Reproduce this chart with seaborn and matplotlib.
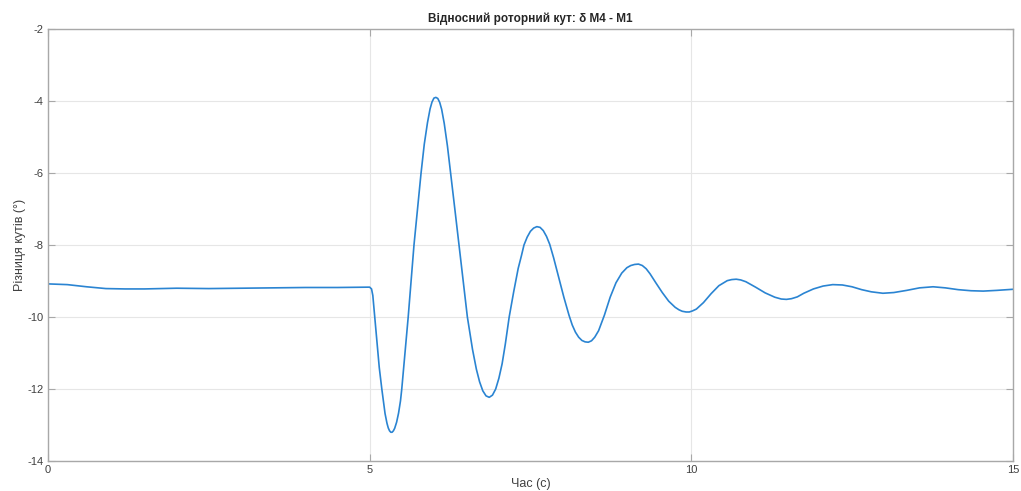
import numpy as np
import pandas as pd
import seaborn as sns
import matplotlib.pyplot as plt

sns.set_theme(style="whitegrid")
plt.rcParams['font.family'] = ['Liberation Sans', 'DejaVu Sans']

# значення
time_s = [
    0.0, 0.3, 0.6, 0.9, 1.2, 1.5, 2.0, 2.5, 3.0, 3.5, 4.0, 4.5, 4.9,
    5.00, 5.03, 5.05, 5.08, 5.11, 5.15, 5.19, 5.24, 5.27, 5.29, 5.31, 5.33,
    5.35, 5.37, 5.39, 5.42, 5.45, 5.48, 5.50, 5.55, 5.60, 5.645, 5.69, 5.745,
    5.80, 5.85, 5.90, 5.94, 5.97, 6.00, 6.03, 6.06, 6.09, 6.12, 6.16, 6.21,
    6.26, 6.325, 6.39, 6.455, 6.52, 6.60, 6.66, 6.71, 6.76, 6.81, 6.86, 6.91,
    6.96, 7.01, 7.06, 7.11, 7.17, 7.24, 7.31, 7.36, 7.40, 7.45, 7.50, 7.55,
    7.60, 7.65, 7.70, 7.75, 7.80, 7.86, 7.94, 8.02, 8.10, 8.15, 8.20, 8.25,
    8.30, 8.35, 8.40, 8.45, 8.50, 8.56, 8.65, 8.74, 8.83, 8.92, 9.00, 9.06,
    9.12, 9.18, 9.24, 9.30, 9.36, 9.45, 9.55, 9.65, 9.75, 9.81, 9.86, 9.92,
    9.97, 10.02, 10.08, 10.19, 10.31, 10.43, 10.56, 10.63, 10.70, 10.77,
    10.85, 11.00, 11.15, 11.30, 11.40, 11.48, 11.56, 11.65, 11.75, 11.90,
    12.05, 12.20, 12.35, 12.50, 12.65, 12.80, 12.98, 13.15, 13.35, 13.55,
    13.76, 13.95, 14.15, 14.35, 14.54, 14.75, 15.0,
]
delta_deg = [
    -9.08, -9.10, -9.16, -9.21, -9.22, -9.22, -9.20, -9.21, -9.20, -9.19, -9.18, -9.18, -9.17,
    -9.17, -9.22, -9.40, -10.0, -10.6, -11.4, -12.0, -12.68, -12.95, -13.08, -13.16, -13.20,
    -13.20, -13.16, -13.09, -12.92, -12.67, -12.33, -12.0, -11.0, -10.0, -9.0, -8.0, -7.0,
    -6.0, -5.2, -4.6, -4.22, -4.03, -3.92, -3.90, -3.93, -4.04, -4.23, -4.62, -5.25,
    -6.0, -7.0, -8.0, -9.0, -10.0, -10.9, -11.45, -11.8, -12.05, -12.19, -12.23, -12.17,
    -12.0, -11.7, -11.3, -10.75, -10.0, -9.3, -8.65, -8.3, -8.0, -7.78, -7.62, -7.53,
    -7.49, -7.51, -7.60, -7.76, -7.98, -8.35, -8.9, -9.45, -9.95, -10.22, -10.42, -10.56,
    -10.65, -10.69, -10.70, -10.66, -10.56, -10.38, -9.95, -9.45, -9.05, -8.78, -8.63, -8.57,
    -8.54, -8.53, -8.57, -8.66, -8.80, -9.05, -9.32, -9.56, -9.73, -9.80, -9.84, -9.86,
    -9.86, -9.83, -9.78, -9.60, -9.35, -9.13, -8.99, -8.96, -8.95, -8.97,
    -9.02, -9.17, -9.33, -9.45, -9.50, -9.51, -9.49, -9.44, -9.34, -9.22,
    -9.14, -9.10, -9.11, -9.16, -9.24, -9.30, -9.34, -9.32, -9.26, -9.19,
    -9.16, -9.19, -9.24, -9.27, -9.28, -9.26, -9.23,
]

x_ticks = [0, 5, 10, 15]
y_ticks = [-14, -12, -10, -8, -6, -4, -2]

df = pd.DataFrame({"t": time_s, "d": delta_deg})

fig = plt.figure(figsize=(10.21, 4.91), dpi=100)
ax = fig.add_axes([0.047, 0.061, 0.945, 0.880])

sns.lineplot(data=df, x="t", y="d", estimator=None, sort=False,
             color="#2a84d2", linewidth=1.2, ax=ax)

ax.set_xlim(0, 15)
ax.set_ylim(-14, -2)
ax.set_xticks(x_ticks)
ax.set_yticks(y_ticks)
ax.set_xticklabels([str(v) for v in x_ticks])
ax.set_yticklabels([str(v) for v in y_ticks])

ax.set_facecolor("white")
ax.grid(True, color="#e6e6e6", linewidth=0.8)
for s in ax.spines.values():
    s.set_visible(True)
    s.set_color("#a8a8a8")
    s.set_linewidth(1.0)
ax.tick_params(direction="in", length=5, width=0.8, color="#a8a8a8",
               labelsize=8, labelcolor="#404040", top=True, right=True,
               left=True, bottom=True, pad=3)

ax.set_title("Відносний роторний кут: δ M4 - M1", fontsize=8.5,
             fontweight="bold", color="#262626", pad=5)
ax.set_xlabel("Час (с)", fontsize=9, color="#404040", labelpad=2)
ax.set_ylabel("Різниця кутів (°)", fontsize=9, color="#404040", labelpad=1)

fig.savefig("out.png", dpi=100, facecolor="white")
